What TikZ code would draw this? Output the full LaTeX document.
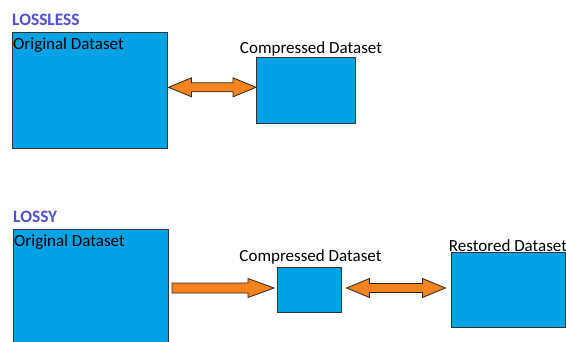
\documentclass[tikz,border=0pt]{standalone}
\usepackage{fontspec}
\setmainfont{Carlito}
\usetikzlibrary{positioning,calc}

\definecolor{boxblue}{HTML}{00A2E6}
\definecolor{headblue}{HTML}{5050D2}
\definecolor{arroworange}{HTML}{F7821E}

\tikzset{
  dataset/.style={draw=black!80, fill=boxblue, line width=0.8pt, anchor=north west,
    inner sep=0pt, outer sep=0pt},
  boxlabel/.style={font=\fontsize{17}{19}\selectfont, inner sep=1pt},
  innerlabel/.style={font=\fontsize{17}{19}\selectfont, inner sep=1pt, anchor=north west, yshift=-4pt},
  heading/.style={font=\bfseries\fontsize{17.4}{19}\selectfont, text=headblue, inner sep=0pt, anchor=north west},
  blockarrow/.style={draw=black!85, fill=arroworange, line width=0.8pt, line join=miter}
}

% fat arrows, horizontal, from #1 to #2
\newcommand{\dblarrow}[2]{%
  \filldraw[blockarrow] (#1) -- ($(#1)+(23,-9.5)$) -- ($(#1)+(23,-4.5)$)
    -- ($(#2)+(-23,-4.5)$) -- ($(#2)+(-23,-9.5)$) -- (#2)
    -- ($(#2)+(-23,9.5)$) -- ($(#2)+(-23,4.5)$)
    -- ($(#1)+(23,4.5)$) -- ($(#1)+(23,9.5)$) -- cycle;}
\newcommand{\onearrow}[2]{%
  \filldraw[blockarrow] ($(#1)+(0,-5)$)
    -- ($(#2)+(-26,-5)$) -- ($(#2)+(-26,-9.5)$) -- (#2)
    -- ($(#2)+(-26,9.5)$) -- ($(#2)+(-26,5)$)
    -- ($(#1)+(0,5)$) -- cycle;}

\begin{document}
\begin{tikzpicture}[x=1pt,y=-1pt]
  \useasboundingbox (0,0) rectangle (566,341);

  % lossless
  \node[heading] (lossless) at (12,14) {LOSSLESS};
  \node[dataset, minimum width=155pt, minimum height=116pt] (orig1) at (12,32) {};
  \node[innerlabel] at (orig1.north west) {Original Dataset};
  \node[dataset, minimum width=99pt, minimum height=66pt] (comp1) at (256,57) {};
  \node[boxlabel, anchor=south, above=0pt of comp1, xshift=5.5pt] {Compressed Dataset};

  \coordinate (a1l) at ([xshift=1.5pt,yshift=2.7pt]orig1.east);
  \coordinate (a1r) at (comp1.west |- a1l);
  \dblarrow{a1l}{a1r}

  % lossy
  \node[heading] (lossy) at (13,211) {LOSSY};
  \node[dataset, minimum width=155pt, minimum height=125pt] (orig2) at (13,229) {};
  \node[innerlabel] at (orig2.north west) {Original Dataset};
  \node[dataset, minimum width=64pt, minimum height=45pt] (comp2) at (277,267) {};
  \node[boxlabel, anchor=south, above=2pt of comp2, xshift=1.5pt] {Compressed Dataset};
  \node[dataset, minimum width=114pt, minimum height=75pt] (rest) at (451,252) {};
  \node[boxlabel, anchor=south, above=-1pt of rest] {Restored Dataset};

  \coordinate (a2l) at ([xshift=4pt] orig2.east |- 0,288);
  \coordinate (a2r) at ([xshift=-3pt] comp2.west |- a2l);
  \onearrow{a2l}{a2r}

  \coordinate (a3l) at ([xshift=5.5pt] comp2.east |- a2l);
  \coordinate (a3r) at ([xshift=-5.5pt] rest.west |- a2l);
  \dblarrow{a3l}{a3r}
\end{tikzpicture}
\end{document}
